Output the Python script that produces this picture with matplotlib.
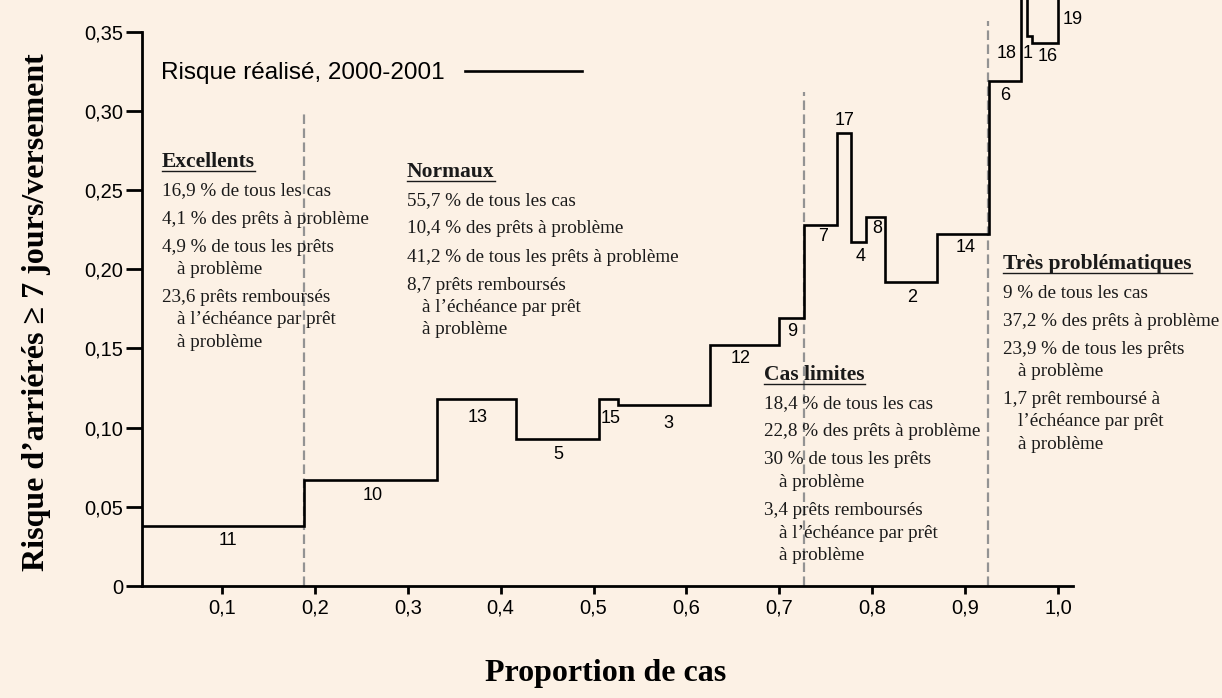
import matplotlib
matplotlib.use('Agg')
import matplotlib.pyplot as plt
from matplotlib.lines import Line2D
import numpy as np

W, H = 1222, 698
bg = '#fcf1e5'

# -- data --
# step edges (proportion de cas) and risk per segment
seg_edges = [0.014, 0.188, 0.331, 0.417, 0.506, 0.526, 0.625, 0.700, 0.727, 0.762,
             0.777, 0.793, 0.814, 0.870, 0.926, 0.960, 0.966, 0.972, 1.000, 1.000]
seg_values = [0.038, 0.067, 0.118, 0.093, 0.118, 0.114, 0.152, 0.169, 0.228, 0.286,
              0.217, 0.233, 0.192, 0.222, 0.319, 0.420, 0.347, 0.343, 0.450]
seg_labels = ['11', '10', '13', '5', '15', '3', '12', '9', '7', '17',
              '4', '8', '2', '14', '6', '18', '1', '16', '19']

group_edges = [0.188, 0.727, 0.925]
group_tops = [0.300, 0.312, 0.357]

x_ticks = [0.1, 0.2, 0.3, 0.4, 0.5, 0.6, 0.7, 0.8, 0.9, 1.0]
x_tick_labels = ['0,1', '0,2', '0,3', '0,4', '0,5', '0,6', '0,7', '0,8', '0,9', '1,0']
y_ticks = [0, 0.05, 0.10, 0.15, 0.20, 0.25, 0.30, 0.35]
y_tick_labels = ['0', '0,05', '0,10', '0,15', '0,20', '0,25', '0,30', '0,35']

legend_label = 'Risque réalisé, 2000-2001'

# group boxes: heading, lines (lines starting with '>' are continuations)
group_names = ['Excellents', 'Normaux', 'Cas limites', 'Très problématiques']
group_lines = [
    ['16,9 % de tous les cas', '4,1 % des prêts à problème', '4,9 % de tous les prêts',
     '>à problème', '23,6 prêts remboursés', '>à l’échéance par prêt', '>à problème'],
    ['55,7 % de tous les cas', '10,4 % des prêts à problème', '41,2 % de tous les prêts à problème',
     '8,7 prêts remboursés', '>à l’échéance par prêt', '>à problème'],
    ['18,4 % de tous les cas', '22,8 % des prêts à problème', '30 % de tous les prêts',
     '>à problème', '3,4 prêts remboursés', '>à l’échéance par prêt', '>à problème'],
    ['9 % de tous les cas', '37,2 % des prêts à problème', '23,9 % de tous les prêts',
     '>à problème', '1,7 prêt remboursé à', '>l’échéance par prêt', '>à problème'],
]

# layout (pixels)
label_offsets = [(5, -15), (3, -16), (1, -18), (1, -16), (2, -19), (5, -18), (-4, -13),
                 (0, -13), (2, -12), (1, 13), (2, -14), (2, -12), (1, -16), (2, -13),
                 (0, -15), (-17, -54), (-2, -17), (3, -14), (15, -20)]
block_pos = [(162, 167), (407, 177), (764, 380), (1003, 269)]

plt.rcParams['font.family'] = ['Liberation Sans', 'DejaVu Sans']

fig = plt.figure(figsize=(W / 100, H / 100), dpi=100, facecolor=bg)
ax = fig.add_axes([142 / W, 1 - 586 / H, 931 / W, 586 / H])
ax.set_facecolor(bg)
ax.patch.set_alpha(0)

xs = np.repeat(seg_edges, 2)[1:-1]
ys = np.repeat(seg_values, 2)
ax.plot(xs, ys, color='black', lw=1.9, solid_joinstyle='miter', zorder=3, label=legend_label)

ax.vlines(group_edges, 0, group_tops, colors='#939393', lw=1.6,
          linestyles=[(0, (4.3, 2.0))], zorder=2)

ax.set_xlim(0.014, 1.016)
ax.set_ylim(0, 0.37)
ax.set_xticks(x_ticks, x_tick_labels)
ax.set_yticks(y_ticks, y_tick_labels)
ax.tick_params(axis='y', length=11.5, width=2, pad=2, labelsize=14.5)
ax.tick_params(axis='x', length=6, width=2, pad=3, labelsize=14.5)
for s in ['top', 'right']:
    ax.spines[s].set_visible(False)
ax.spines['left'].set_linewidth(2)
ax.spines['bottom'].set_linewidth(2)
ax.spines['left'].set_bounds(0, 0.35)

# segment numbers
for i, lab in enumerate(seg_labels):
    mid = (seg_edges[i] + seg_edges[i + 1]) / 2
    yv = min(seg_values[i], 0.37)
    ax.annotate(lab, (mid, yv), xytext=label_offsets[i], textcoords='offset pixels',
                ha='center', va='center', fontsize=13, annotation_clip=False)

leg = ax.legend(loc='center left', bbox_to_anchor=(0.0204, 0.8754), frameon=False,
                markerfirst=False, handlelength=4.8, handletextpad=0.85,
                borderpad=0, borderaxespad=0, prop={'size': 17.5})

# axis titles
fig.text(606 / W, 1 - 674 / H, 'Proportion de cas', ha='center', va='center',
         family='Liberation Serif', weight='bold', fontsize=23)
fig.text(37 / W, 1 - 312 / H, 'Risque d’arriérés ≥ 7 jours/versement', ha='center',
         va='center', rotation=90, family=['Liberation Serif', 'DejaVu Serif'],
         weight='bold', fontsize=23)

# group text blocks
heads = []
for (bx, by), name, lines in zip(block_pos, group_names, group_lines):
    t = fig.text(bx / W, 1 - by / H, name, ha='left', va='baseline',
                 family='Liberation Serif', weight='bold', fontsize=15.5, color='#1a1a1a')
    heads.append((t, by))
    yc = by + 23
    for j, ln in enumerate(lines):
        if j > 0:
            yc += 22.5 if ln.startswith('>') else 28
        indent = 15 if ln.startswith('>') else 0
        fig.text((bx + indent) / W, 1 - (yc + 5.5) / H, ln.lstrip('>'), ha='left',
                 va='baseline', family='Liberation Serif', fontsize=13.8, color='#1a1a1a')

fig.canvas.draw()
r = fig.canvas.get_renderer()
for t, by in heads:
    bb = t.get_window_extent(r)
    yu = 1 - (by + 4) / H
    fig.add_artist(Line2D([bb.x0 / W, bb.x1 / W], [yu, yu], transform=fig.transFigure,
                          color='#1a1a1a', lw=1.0))

fig.savefig('out.png', dpi=100, facecolor=bg)
